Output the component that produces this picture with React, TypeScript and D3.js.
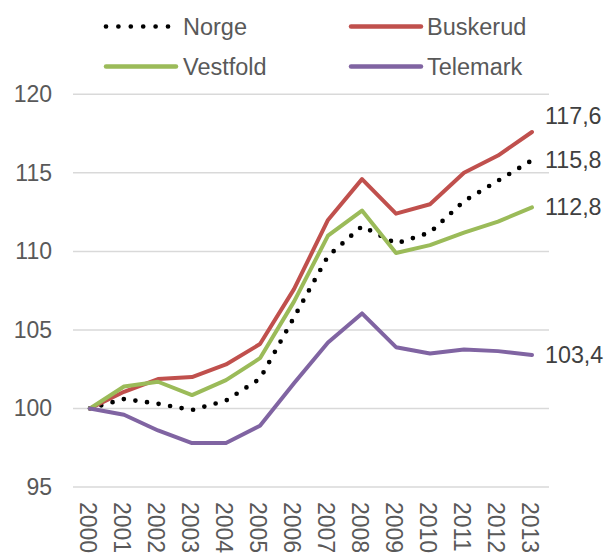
import React from "react";
import * as d3 from "d3";

const years = ["2000","2001","2002","2003","2004","2005","2006","2007","2008","2009","2010","2011","2012","2013"];
const norge = [100, 100.6, 100.3, 99.9, 100.5, 101.9, 105.8, 109.7, 111.6, 110.5, 111.2, 113.2, 114.5, 115.8];
const buskerud = [100, 101.06, 101.87, 102.0, 102.8, 104.1, 107.6, 112.0, 114.6, 112.4, 113.0, 115.0, 116.1, 117.6];
const vestfold = [100, 101.4, 101.7, 100.85, 101.8, 103.2, 106.8, 111.0, 112.6, 109.9, 110.4, 111.2, 111.9, 112.8];
const telemark = [100, 99.6, 98.6, 97.8, 97.8, 98.9, 101.6, 104.2, 106.05, 103.9, 103.5, 103.75, 103.65, 103.4];
const yTicks = [95, 100, 105, 110, 115, 120];
const endLabels = ["117,6", "115,8", "112,8", "103,4"];

const FONT = "'Liberation Sans', Arial, sans-serif";

export default function App() {
  const W = 606, H = 554;
  const x = d3.scalePoint<string>().domain(years).range([73, 549]).padding(0.5);
  const y = d3.scaleLinear().domain([95, 120]).range([487, 94.3]);
  const line = d3.line<number>().x((_, i) => x(years[i]) as number).y((d) => y(d));

  const series = [
    { name: "Norge", data: norge, color: "#000000", dotted: true, label: endLabels[1], dy: 0 },
    { name: "Buskerud", data: buskerud, color: "#C0504D", dotted: false, label: endLabels[0], dy: -16 },
    { name: "Vestfold", data: vestfold, color: "#9BBB59", dotted: false, label: endLabels[2], dy: 0 },
    { name: "Telemark", data: telemark, color: "#8064A2", dotted: false, label: endLabels[3], dy: 0 },
  ];

  const legendPos = [
    { x1: 106, x2: 168, y: 26.5, tx: 183 },
    { x1: 351, x2: 421, y: 26.5, tx: 427 },
    { x1: 106, x2: 176, y: 66.5, tx: 183 },
    { x1: 351, x2: 421, y: 66.5, tx: 427 },
  ];

  return (
    <svg width={W} height={H} style={{ position: "absolute", left: 0, top: 0, background: "#fff" }} fontFamily={FONT}>
      {yTicks.map((t) => (
        <g key={t}>
          <line x1={73} x2={549} y1={y(t)} y2={y(t)} stroke="#D9D9D9" strokeWidth={1.5} />
          <text x={52} y={y(t)} textAnchor="end" dominantBaseline="central" fontSize={23} fill="#595959">{t}</text>
        </g>
      ))}
      {years.map((yr) => (
        <text key={yr} transform={`translate(${(x(yr) as number) - 2},502) rotate(90)`} dominantBaseline="central" fontSize={23} fill="#595959">{yr}</text>
      ))}
      {series.map((s) => (
        <path key={s.name} d={line(s.data) || ""} fill="none" stroke={s.color}
          strokeWidth={s.dotted ? 4.7 : 4}
          strokeDasharray={s.dotted ? "0 11.7" : undefined}
          strokeLinecap="round" strokeLinejoin="round" />
      ))}
      {series.map((s) => (
        <text key={s.name + "l"} x={545} y={y(s.data[s.data.length - 1]) + s.dy} dominantBaseline="central" fontSize={23.3} fill="#404040">{s.label}</text>
      ))}
      {series.map((s, i) => {
        const p = legendPos[i];
        return (
          <g key={s.name + "leg"}>
            <line x1={p.x1} x2={p.x2} y1={p.y} y2={p.y} stroke={s.color}
              strokeWidth={s.dotted ? 4.7 : 4.5}
              strokeDasharray={s.dotted ? "0 12.4" : undefined}
              strokeLinecap="round" />
            <text x={p.tx} y={p.y} dominantBaseline="central" fontSize={23.5} fill="#595959">{s.name}</text>
          </g>
        );
      })}
    </svg>
  );
}
